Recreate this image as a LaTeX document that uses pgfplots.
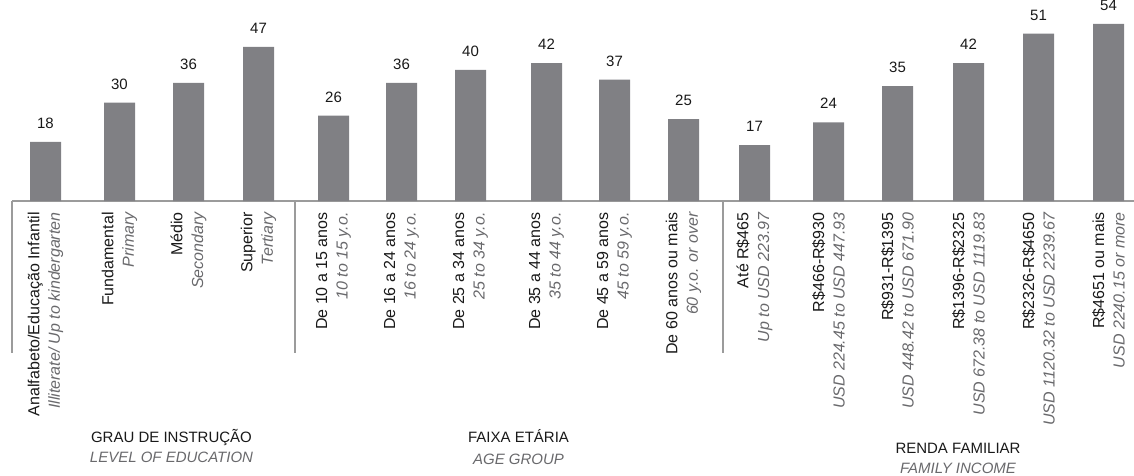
\documentclass[border=0pt]{standalone}
\usepackage{pgfplots}
\pgfplotsset{compat=1.18}
\usepackage{fontspec}
\setmainfont{Liberation Sans}
\definecolor{barcol}{RGB}{128,128,132}
\definecolor{linecol}{RGB}{155,155,155}
\definecolor{engl}{RGB}{105,105,108}
\definecolor{txt}{RGB}{25,25,25}
\newcommand\tl[2]{\textcolor{txt}{#1}\\\textcolor{engl}{\itshape #2}}
\begin{document}
\begin{tikzpicture}
\begin{axis}[
  scale only axis, width=561pt, height=100.5pt,
  xmin=12, xmax=1134, ymin=0, ymax=61.28,
  clip=false, ybar,
  axis x line=bottom, axis y line=none,
  x axis line style={-, draw=linecol, line width=1pt},
  xtick={45.5,119.5,188.5,258.5,333.5,401.5,470.5,546.5,614.5,683.5,754.5,828.5,897.5,968.5,1038.5,1108.5},
  xticklabels={
    {\tl{Analfabeto/Educação Infantil}{Illiterate/ Up to kindergarten}},
    {\tl{Fundamental}{Primary}},
    {\tl{Médio}{Secondary}},
    {\tl{Superior}{Tertiary}},
    {\tl{De 10 a 15 anos}{10 to 15 y.o.}},
    {\tl{De 16 a 24 anos}{16 to 24 y.o.}},
    {\tl{De 25 a 34 anos}{25 to 34 y.o.}},
    {\tl{De 35 a 44 anos}{35 to 44 y.o.}},
    {\tl{De 45 a 59 anos}{45 to 59 y.o.}},
    {\tl{De 60 anos ou mais}{60 y.o. or over}},
    {\tl{Até R\$465}{Up to USD 223.97}},
    {\tl{R\$466-R\$930}{USD 224.45 to USD 447.93}},
    {\tl{R\$931-R\$1395}{USD 448.42 to USD 671.90}},
    {\tl{R\$1396-R\$2325}{USD 672.38 to USD 1119.83}},
    {\tl{R\$2326-R\$4650}{USD 1120.32 to USD 2239.67}},
    {\tl{R\$4651 ou mais}{USD 2240.15 or more}}
  },
  major tick length=0pt,
  xticklabel style={rotate=90, anchor=east, align=right, inner ysep=0pt, inner xsep=5.5pt, font=\fontsize{8}{10.3}\selectfont},
  ytick=\empty,
  /pgf/number format/assume math mode=true,
  nodes near coords,
  nodes near coords style={font=\fontsize{7.5}{9}\selectfont, text=txt, anchor=south, inner sep=0pt, yshift=6.5pt},
]
\addplot[ybar, bar width=15.5pt, fill=barcol, draw=none] coordinates {
  (45.5,18) (119.5,30) (188.5,36) (258.5,47)
  (333.5,26) (401.5,36) (470.5,40) (546.5,42) (614.5,37) (683.5,25)
  (754.5,17) (828.5,24) (897.5,35) (968.5,42) (1038.5,51) (1108.5,54)
};
\draw[linecol, line width=1pt] (axis cs:12,0) -- (axis cs:12,-46.3);
\draw[linecol, line width=1pt] (axis cs:295,0) -- (axis cs:295,-46.3);
\draw[linecol, line width=1pt] (axis cs:723,0) -- (axis cs:723,-46.3);
\node[font=\fontsize{7.5}{9}\selectfont, text=txt] at (axis cs:171.5,-71.95) {GRAU DE INSTRUÇÃO};
\node[font=\fontsize{7.5}{9}\selectfont\itshape, text=engl] at (axis cs:171.5,-78.05) {LEVEL OF EDUCATION};
\node[font=\fontsize{7.5}{9}\selectfont, text=txt] at (axis cs:518.5,-71.65) {FAIXA ETÁRIA};
\node[font=\fontsize{7.5}{9}\selectfont\itshape, text=engl] at (axis cs:518.5,-78.66) {AGE GROUP};
\node[font=\fontsize{7.5}{9}\selectfont, text=txt] at (axis cs:958,-75.3) {RENDA FAMILIAR};
\node[font=\fontsize{7.5}{9}\selectfont\itshape, text=engl] at (axis cs:958,-81.4) {FAMILY INCOME};
\coordinate (BL) at (axis cs:0,-83.54);
\coordinate (TR) at (axis cs:1134,61.28);
\end{axis}
\pgfresetboundingbox
\useasboundingbox (BL) rectangle (TR);
\end{tikzpicture}
\end{document}
